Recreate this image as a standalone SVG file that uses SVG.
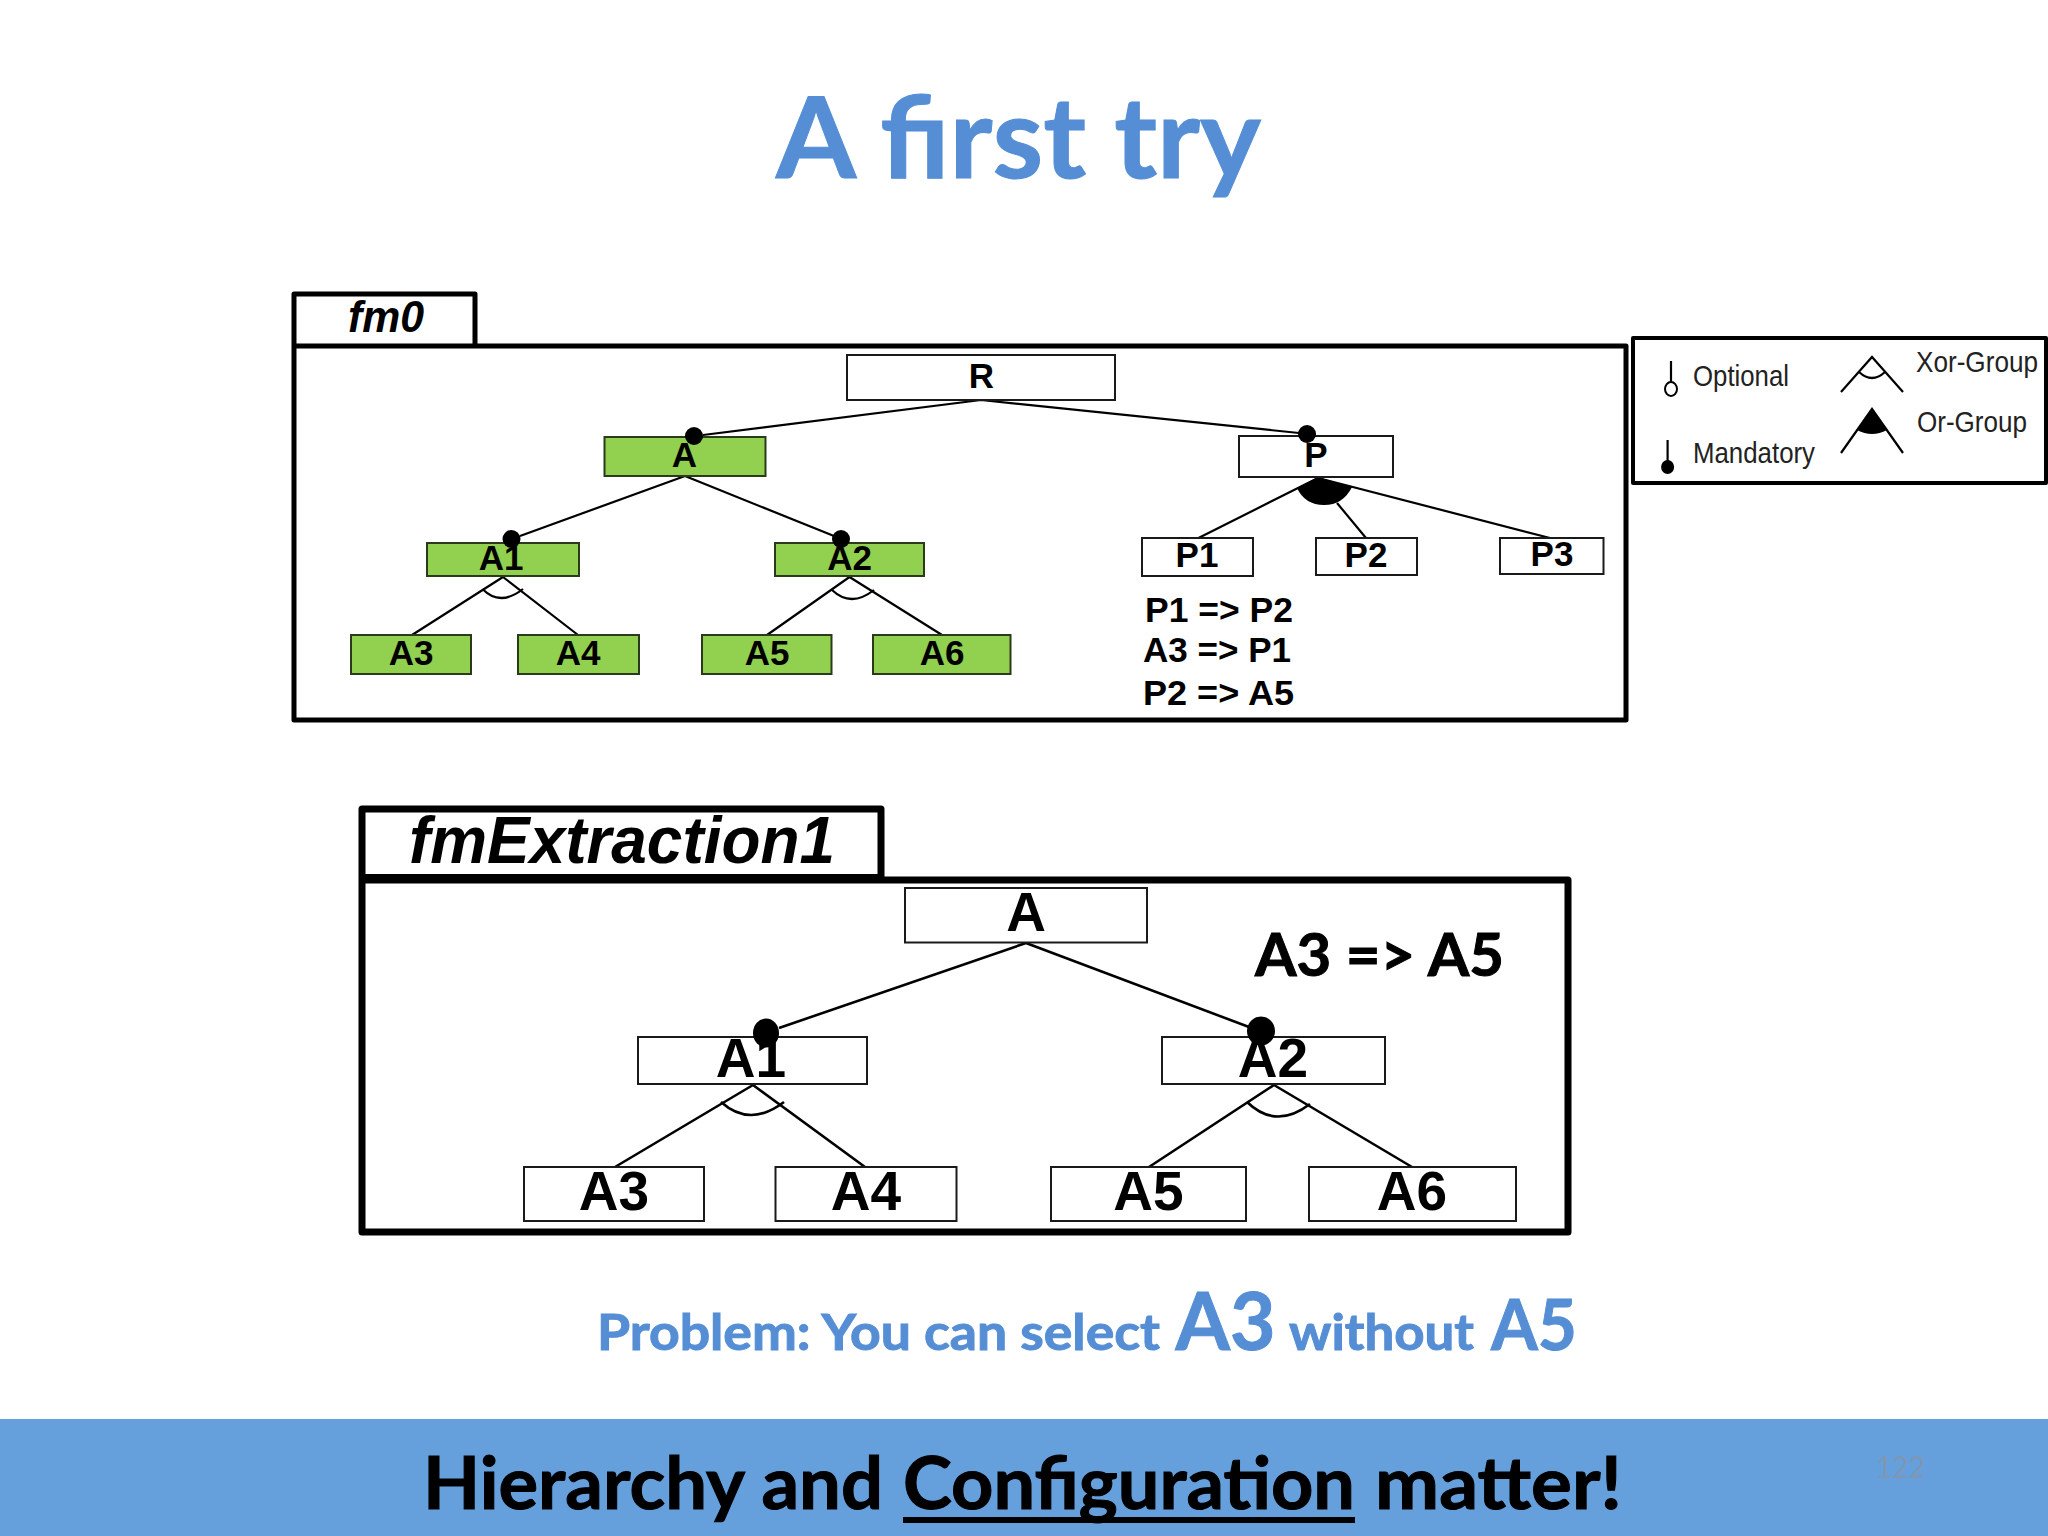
<svg xmlns="http://www.w3.org/2000/svg" width="2048" height="1536" viewBox="0 0 2048 1536">
<style>
.box{fill:#fff;stroke:#1a1a1a;stroke-width:2}
.green{fill:#92d050;stroke:#2b3a1a;stroke-width:2}
.frame{fill:none;stroke:#000;stroke-linejoin:round}
.ln{fill:none;stroke:#000;stroke-width:2.2}
.ln2{fill:none;stroke:#000;stroke-width:2.6}
.s{font-family:"Liberation Sans",Arial,sans-serif;font-weight:700;font-size:35px;text-anchor:middle;fill:#000}
.b{font-family:"Liberation Sans",Arial,sans-serif;font-weight:700;font-size:55px;text-anchor:middle;fill:#000}
.c{font-family:"Liberation Sans",Arial,sans-serif;font-weight:700;font-size:35px;fill:#000}
.lg{font-family:"Liberation Sans",Arial,sans-serif;font-size:29px;fill:#222}
.t{font-family:Lato,"Open Sans",sans-serif;font-weight:700;stroke:#000;stroke-width:1}
.blue{fill:#558ed5;stroke:#558ed5}
</style>
<rect width="2048" height="1536" fill="#fff"/>
<text id="title" class="t blue" x="776" y="178" font-size="113" textLength="485" lengthAdjust="spacingAndGlyphs">A first try</text>

<g id="frames">
<path class="frame" stroke-width="5" d="M294 346V294H475V346M294 346H1626V720H294Z"/>
<text class="c" x="348" y="332" style="font-size:44px;font-style:italic" textLength="76" lengthAdjust="spacingAndGlyphs">fm0</text>
<path class="frame" stroke-width="7" d="M362 880V809H881V880M362 880H1568V1232H362Z"/>
<path d="M362 878H881" stroke="#000" stroke-width="8"/>
<text class="b" x="622" y="863" style="font-size:67px;font-style:italic" textLength="426" lengthAdjust="spacingAndGlyphs">fmExtraction1</text>
</g>

<g id="connectors">
<path class="ln" d="M981 400L703 435M981 400L1299 433"/>
<path class="ln" d="M685 476L520 536M685 476L834 536"/>
<path class="ln" d="M503 577L412 635M503 577L578 635M849.500 577L767 635M849.500 577L942 635"/>
<path class="ln" d="M482.500 589Q500 607 523 589M832 590Q851 608 874 590"/>
<path class="ln" d="M1318 478L1198.500 538M1318 478L1550 538M1337 503L1366 538"/>
<path d="M1318 477L1297 488Q1305 505 1324 505Q1343 505 1352 487Z" fill="#000"/>
<path class="ln2" d="M1026 943L779 1028M1026 943L1249 1027"/>
<path class="ln2" d="M753 1085L615 1167M753 1085L865 1167M1274 1085L1149 1167M1274 1085L1412 1167"/>
<path class="ln2" d="M721 1102Q750 1128 784 1102M1247 1102Q1276 1130 1310 1104"/>
</g>

<g id="fm0-R"><rect class="box" x="847" y="355" width="268" height="45"/><text class="s" x="981.500" y="388">R</text></g>
<g id="fm0-A"><rect class="green" x="604.500" y="437" width="161" height="39"/><circle cx="694" cy="436" r="9"/><text class="s" x="684.500" y="467">A</text></g>
<g id="fm0-A1"><rect class="green" x="427" y="543" width="152" height="33"/><circle cx="511.500" cy="539" r="9"/><text class="s" x="501" y="570">A1</text></g>
<g id="fm0-A2"><rect class="green" x="775" y="543" width="149" height="33"/><circle cx="841" cy="539" r="9"/><text class="s" x="849.500" y="570">A2</text></g>
<g id="fm0-A3"><rect class="green" x="351" y="635" width="120" height="39"/><text class="s" x="411" y="665">A3</text></g>
<g id="fm0-A4"><rect class="green" x="518" y="635" width="121" height="39"/><text class="s" x="578" y="665">A4</text></g>
<g id="fm0-A5"><rect class="green" x="702" y="635" width="129.500" height="39"/><text class="s" x="767" y="665">A5</text></g>
<g id="fm0-A6"><rect class="green" x="873" y="635" width="137.500" height="39"/><text class="s" x="942" y="665">A6</text></g>
<g id="fm0-P"><rect class="box" x="1239" y="436" width="154" height="41"/><circle cx="1307" cy="434" r="9"/><text class="s" x="1316" y="467">P</text></g>
<g id="fm0-P1"><rect class="box" x="1142" y="538" width="111" height="38"/><text class="s" x="1197" y="567">P1</text></g>
<g id="fm0-P2"><rect class="box" x="1316" y="538" width="101" height="37"/><text class="s" x="1366" y="567">P2</text></g>
<g id="fm0-P3"><rect class="box" x="1500" y="538" width="103.500" height="36"/><text class="s" x="1552" y="566">P3</text></g>

<g id="fm0-constraints">
<text class="c" x="1145" y="622" textLength="148" lengthAdjust="spacingAndGlyphs">P1 =&gt; P2</text>
<text class="c" x="1143" y="662" textLength="148" lengthAdjust="spacingAndGlyphs">A3 =&gt; P1</text>
<text class="c" x="1143" y="705" textLength="151" lengthAdjust="spacingAndGlyphs">P2 =&gt; A5</text>
</g>

<g id="legend">
<rect class="frame" stroke-width="4" x="1633" y="338" width="413" height="145"/>
<path class="ln" d="M1671 361V383"/><ellipse cx="1671" cy="389" rx="6" ry="7" fill="#fff" stroke="#000" stroke-width="2"/>
<text class="lg" x="1693" y="386" textLength="96" lengthAdjust="spacingAndGlyphs">Optional</text>
<path class="ln" d="M1667.600 440V462"/><ellipse cx="1667.600" cy="467" rx="6.500" ry="7"/>
<text class="lg" x="1693" y="463" textLength="122" lengthAdjust="spacingAndGlyphs">Mandatory</text>
<path class="ln" d="M1841 392L1872 357L1903 392M1859 372Q1872 384 1885 372"/>
<text class="lg" x="1916" y="372" textLength="122" lengthAdjust="spacingAndGlyphs">Xor-Group</text>
<path class="ln" d="M1841 453L1872 409L1903 453"/>
<path d="M1872 409L1857 430Q1872 438 1887 430Z"/>
<text class="lg" x="1917" y="432" textLength="110" lengthAdjust="spacingAndGlyphs">Or-Group</text>
</g>

<g id="ex-A"><rect class="box" x="905" y="888" width="242" height="54.500"/><text class="b" x="1026" y="931">A</text></g>
<g id="ex-A1"><rect class="box" x="638" y="1037" width="229" height="47"/><ellipse cx="766" cy="1033" rx="13" ry="14.500"/><text class="b" x="751" y="1077">A1</text></g>
<g id="ex-A2"><rect class="box" x="1162" y="1037" width="223" height="47"/><ellipse cx="1261" cy="1031" rx="14" ry="14.500"/><text class="b" x="1273" y="1077">A2</text></g>
<g id="ex-A3"><rect class="box" x="524" y="1167" width="180" height="54"/><text class="b" x="614" y="1210">A3</text></g>
<g id="ex-A4"><rect class="box" x="775.500" y="1167" width="181" height="54"/><text class="b" x="866" y="1210">A4</text></g>
<g id="ex-A5"><rect class="box" x="1051" y="1167" width="195" height="54"/><text class="b" x="1148.500" y="1210">A5</text></g>
<g id="ex-A6"><rect class="box" x="1309" y="1167" width="207" height="54"/><text class="b" x="1412" y="1210">A6</text></g>
<text id="ex-constraint" class="t" x="1255" y="976" font-size="60" textLength="249" lengthAdjust="spacingAndGlyphs">A3 =&gt; A5</text>

<g id="problem" class="t blue">
<text x="597" y="1350" font-size="50" textLength="563" lengthAdjust="spacingAndGlyphs">Problem: You can select</text>
<text x="1175.500" y="1350" font-size="81" textLength="100" lengthAdjust="spacingAndGlyphs">A3</text>
<text x="1289" y="1350" font-size="50" textLength="185" lengthAdjust="spacingAndGlyphs">without</text>
<text x="1491" y="1350" font-size="71" textLength="86" lengthAdjust="spacingAndGlyphs">A5</text>
</g>

<g id="footer">
<rect x="0" y="1419" width="2048" height="117" fill="#659fdc"/>
<text class="t" x="423" y="1509" font-size="72" textLength="460" lengthAdjust="spacingAndGlyphs">Hierarchy and</text>
<text class="t" x="903" y="1509" font-size="72" textLength="452" lengthAdjust="spacingAndGlyphs">Configuration</text>
<rect x="903" y="1517" width="452" height="6"/>
<text class="t" x="1375" y="1509" font-size="72" textLength="247" lengthAdjust="spacingAndGlyphs">matter!</text>
<text x="1876" y="1478" font-family="Lato,sans-serif" font-size="30" fill="#7d97b4" textLength="49" lengthAdjust="spacingAndGlyphs">122</text>
</g>
</svg>
